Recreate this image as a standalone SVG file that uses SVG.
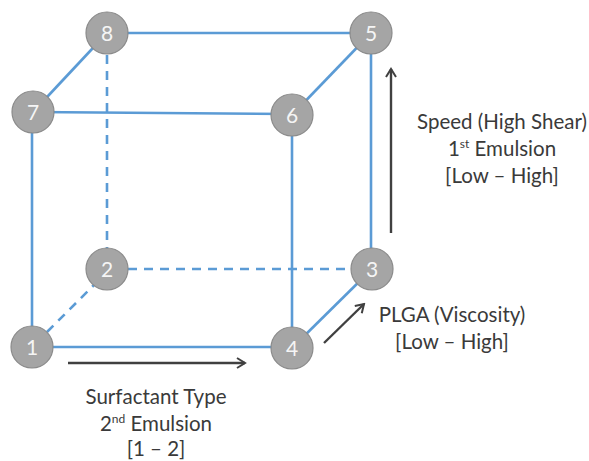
<svg xmlns="http://www.w3.org/2000/svg" width="589" height="461" viewBox="0 0 589 461">
  <defs>
    <style>
      .edge { stroke: #5b9bd5; stroke-width: 2.6; fill: none; }
      .dash { stroke-dasharray: 9 7; }
      .axis { stroke: #404040; stroke-width: 2.4; fill: none; marker-end: url(#chev); }
      .node circle { fill: #a5a5a5; stroke: #8a8a8a; stroke-width: 1.2; }
      .node text { fill: #f5f5f5; font-family: Lato, "Open Sans", sans-serif; font-size: 21px; text-anchor: middle; }
      .label { fill: #3a3a3a; font-family: Lato, "Open Sans", sans-serif; font-size: 20.5px; text-anchor: middle; }
      .sup { font-size: 12px; }
    </style>
    <marker id="chev" viewBox="0 0 12 12" refX="10" refY="6" markerWidth="12" markerHeight="12" markerUnits="userSpaceOnUse" orient="auto">
      <path d="M2,1 L10,6 L2,11" fill="none" stroke="#404040" stroke-width="2"/>
    </marker>
  </defs>

  <!-- cube edges -->
  <g id="connectors">
    <line class="edge" x1="107" y1="33" x2="371" y2="33"/>
    <line class="edge" x1="33" y1="112" x2="292" y2="114"/>
    <line class="edge" x1="33" y1="112" x2="107" y2="33"/>
    <line class="edge" x1="292" y1="115" x2="371" y2="33"/>
    <line class="edge" x1="32" y1="112" x2="32" y2="347"/>
    <line class="edge" x1="292" y1="115" x2="292" y2="348"/>
    <line class="edge" x1="371" y1="33" x2="371" y2="269"/>
    <line class="edge" x1="32" y1="347" x2="292" y2="347"/>
    <line class="edge" x1="292" y1="348" x2="372" y2="269"/>
    <line class="edge dash" x1="107" y1="55" x2="107" y2="269"/>
    <line class="edge dash" x1="128" y1="269" x2="372" y2="269"/>
    <line class="edge dash" x1="47" y1="332" x2="96" y2="283"/>
    <!-- factor arrows -->
    <line class="axis" x1="68" y1="363" x2="245" y2="363"/>
    <line class="axis" x1="391" y1="233" x2="391" y2="69"/>
    <line class="axis" x1="324" y1="343" x2="364" y2="304"/>
  </g>

  <g id="n1" class="node"><circle cx="32" cy="347" r="21"/><text x="32" y="354.5">1</text></g>
  <g id="n2" class="node"><circle cx="107" cy="269" r="21"/><text x="107" y="276.5">2</text></g>
  <g id="n3" class="node"><circle cx="372" cy="269" r="21"/><text x="372" y="276.5">3</text></g>
  <g id="n4" class="node"><circle cx="292" cy="348" r="21"/><text x="292" y="355.5">4</text></g>
  <g id="n5" class="node"><circle cx="371" cy="33" r="21"/><text x="371" y="40.5">5</text></g>
  <g id="n6" class="node"><circle cx="292" cy="115" r="21"/><text x="292" y="122.5">6</text></g>
  <g id="n7" class="node"><circle cx="33" cy="112" r="21"/><text x="33" y="119.5">7</text></g>
  <g id="n8" class="node"><circle cx="107" cy="33" r="21"/><text x="107" y="40.5">8</text></g>

  <!-- factor labels -->
  <g id="speed-label">
    <text class="label" x="502" y="129">Speed (High Shear)</text>
    <text class="label" x="502" y="156">1<tspan class="sup" dy="-8">st</tspan><tspan dy="8"> Emulsion</tspan></text>
    <text class="label" x="502" y="183">[Low – High]</text>
  </g>
  <g id="plga-label">
    <text class="label" x="452" y="322">PLGA (Viscosity)</text>
    <text class="label" x="452" y="349">[Low – High]</text>
  </g>
  <g id="surfactant-label">
    <text class="label" x="156" y="404">Surfactant Type</text>
    <text class="label" x="156" y="431">2<tspan class="sup" dy="-8">nd</tspan><tspan dy="8"> Emulsion</tspan></text>
    <text class="label" x="156" y="456">[1 – 2]</text>
  </g>
</svg>
